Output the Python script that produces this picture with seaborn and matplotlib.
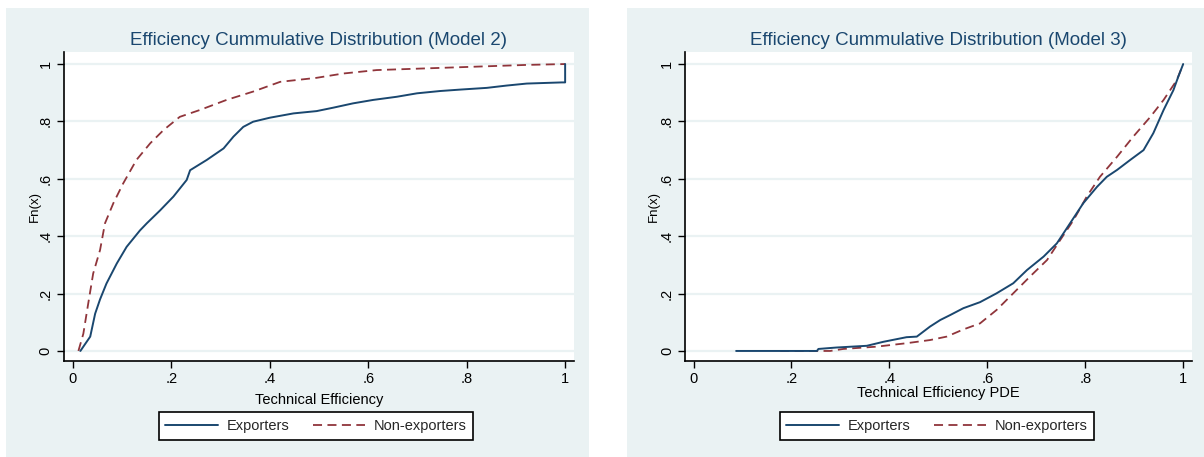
import matplotlib
matplotlib.use("Agg")
import matplotlib.pyplot as plt
from matplotlib.patches import Rectangle
from matplotlib.lines import Line2D
import seaborn as sns
import pandas as pd

sns.set_theme(style="white")
plt.rcParams['font.family'] = ['Liberation Sans', 'DejaVu Sans']

# ---- data ----
m2_exp_x = [0.015, 0.035, 0.045, 0.055, 0.068, 0.089, 0.109, 0.136, 0.150, 0.177, 0.204, 0.231,
            0.238, 0.272, 0.306, 0.326, 0.346, 0.366, 0.400, 0.448, 0.495, 0.529, 0.569, 0.610,
            0.658, 0.699, 0.746, 0.787, 0.841, 0.881, 0.922, 0.993, 1.000, 1.000]
m2_exp_y = [0.000, 0.050, 0.130, 0.180, 0.235, 0.305, 0.363, 0.420, 0.445, 0.490, 0.538, 0.596,
            0.630, 0.666, 0.706, 0.747, 0.781, 0.799, 0.813, 0.828, 0.836, 0.848, 0.863, 0.875,
            0.886, 0.898, 0.906, 0.911, 0.917, 0.925, 0.932, 0.936, 0.936, 1.000]
m2_non_x = [0.011, 0.021, 0.031, 0.041, 0.055, 0.065, 0.082, 0.102, 0.129, 0.157, 0.184, 0.217,
            0.258, 0.312, 0.366, 0.421, 0.495, 0.549, 0.617, 0.719, 0.820, 0.922, 1.000]
m2_non_y = [0.000, 0.060, 0.166, 0.270, 0.352, 0.445, 0.515, 0.584, 0.666, 0.724, 0.770, 0.816,
            0.840, 0.875, 0.904, 0.938, 0.952, 0.967, 0.979, 0.985, 0.991, 0.997, 1.000]

m3_exp_x = [0.087, 0.252, 0.255, 0.292, 0.354, 0.388, 0.435, 0.456, 0.483, 0.504, 0.524, 0.551,
            0.585, 0.619, 0.653, 0.681, 0.715, 0.742, 0.769, 0.796, 0.824, 0.844, 0.865, 0.892,
            0.919, 0.939, 0.960, 0.980, 0.990, 1.000]
m3_exp_y = [0.000, 0.000, 0.007, 0.012, 0.018, 0.032, 0.048, 0.050, 0.085, 0.108, 0.125, 0.149,
            0.170, 0.201, 0.236, 0.282, 0.329, 0.375, 0.445, 0.515, 0.572, 0.607, 0.631, 0.666,
            0.700, 0.759, 0.840, 0.909, 0.956, 1.000]
m3_non_x = [0.177, 0.279, 0.306, 0.374, 0.435, 0.483, 0.517, 0.551, 0.585, 0.619, 0.653, 0.687,
            0.722, 0.749, 0.776, 0.803, 0.830, 0.865, 0.898, 0.933, 0.960, 0.987, 1.000]
m3_non_y = [0.000, 0.000, 0.007, 0.015, 0.027, 0.038, 0.050, 0.075, 0.096, 0.143, 0.201, 0.259,
            0.317, 0.387, 0.456, 0.538, 0.607, 0.677, 0.747, 0.816, 0.875, 0.944, 1.000]

tick_vals = [0, 0.2, 0.4, 0.6, 0.8, 1.0]
tick_labels = ["0", ".2", ".4", ".6", ".8", "1"]
series_labels = ["Exporters", "Non-exporters"]
titles = ["Efficiency Cummulative Distribution (Model 2)",
          "Efficiency Cummulative Distribution (Model 3)"]
xlabels = ["Technical Efficiency", "Technical Efficiency PDE"]

NAVY = "#1a476f"
MAROON = "#90353b"
BG = "#eaf2f3"

W, H = 1204, 457
fig = plt.figure(figsize=(W / 100, H / 100), dpi=100)
fig.patch.set_facecolor("white")


def rect_px(x0, y0, x1, y1):
    return [x0 / W, 1 - y1 / H, (x1 - x0) / W, (y1 - y0) / H]


# panel backgrounds
for (x0, x1) in [(6, 589), (627, 1204)]:
    r = rect_px(x0, 8, x1, 457)
    fig.add_artist(Rectangle((r[0], r[1]), r[2], r[3], transform=fig.transFigure,
                             facecolor=BG, edgecolor="none", zorder=0))

panels = [
    dict(axrect=rect_px(63.5, 52, 574, 361), xlim=(-0.0193, 1.018),
         exp=(m2_exp_x, m2_exp_y), non=(m2_non_x, m2_non_y),
         title=titles[0], xlabel=xlabels[0], xlabel_y=400, leg=(155, 477), ylab_x=35),
    dict(axrect=rect_px(685, 52, 1192, 361), xlim=(-0.0174, 1.018),
         exp=(m3_exp_x, m3_exp_y), non=(m3_non_x, m3_non_y),
         title=titles[1], xlabel=xlabels[1], xlabel_y=393, leg=(777, 1097), ylab_x=654),
]

for p in panels:
    ax = fig.add_axes(p["axrect"])
    ax.set_facecolor("white")
    ax.set_zorder(2)
    ax.set_xlim(*p["xlim"])
    ax.set_ylim(-0.035, 1.042)
    for yv in tick_vals:
        ax.axhline(yv, color=BG, lw=1.6, zorder=0)

    d_exp = pd.DataFrame({"x": p["exp"][0], "y": p["exp"][1]})
    d_non = pd.DataFrame({"x": p["non"][0], "y": p["non"][1]})
    sns.lineplot(data=d_non, x="x", y="y", ax=ax, sort=False, estimator=None,
                 color=MAROON, lw=1.3, legend=False, zorder=3)
    ax.lines[-1].set_dashes([5, 3])
    sns.lineplot(data=d_exp, x="x", y="y", ax=ax, sort=False, estimator=None,
                 color=NAVY, lw=1.4, legend=False, zorder=4)

    for s in ["top", "right"]:
        ax.spines[s].set_visible(False)
    for s in ["left", "bottom"]:
        ax.spines[s].set_color("black")
        ax.spines[s].set_linewidth(1.2)

    ax.set_xticks(tick_vals)
    ax.set_xticklabels(tick_labels, fontsize=10.5)
    ax.set_yticks(tick_vals)
    ax.set_yticklabels(tick_labels, fontsize=10.5, rotation=90, va="center")
    ax.tick_params(axis="both", direction="out", length=5, width=1, color="black",
                   labelcolor="black", pad=3, left=True, bottom=True)
    ax.set_xlabel("")
    ax.set_ylabel("")

    ax.set_title(p["title"], fontsize=13.5, color=NAVY, pad=5)

    cx = (p["axrect"][0] + p["axrect"][2] / 2)
    fig.text(cx, 1 - p["xlabel_y"] / H, p["xlabel"], ha="center", va="center",
             fontsize=10.5, color="black")
    fig.text(p["ylab_x"] / W, 1 - 206 / H, "Fn(x)", rotation=90, ha="center",
             va="center", fontsize=9.5, color="black")

    handles = [Line2D([], [], color=NAVY, lw=1.4),
               Line2D([], [], color=MAROON, lw=1.3, dashes=[5, 3])]
    lx0, lx1 = p["leg"]
    leg = ax.legend(handles, series_labels, ncol=2, loc="center",
                    bbox_to_anchor=((lx0 + lx1) / 2 / W, 1 - 426 / H),
                    bbox_transform=fig.transFigure, frameon=True, fancybox=False,
                    edgecolor="black", facecolor="white", framealpha=1,
                    fontsize=10.5, handlelength=3.6, columnspacing=1.6,
                    handletextpad=0.6, borderpad=0.45, borderaxespad=0)
    leg.get_frame().set_linewidth(1.2)

fig.savefig("out.png", dpi=100, facecolor="white")
